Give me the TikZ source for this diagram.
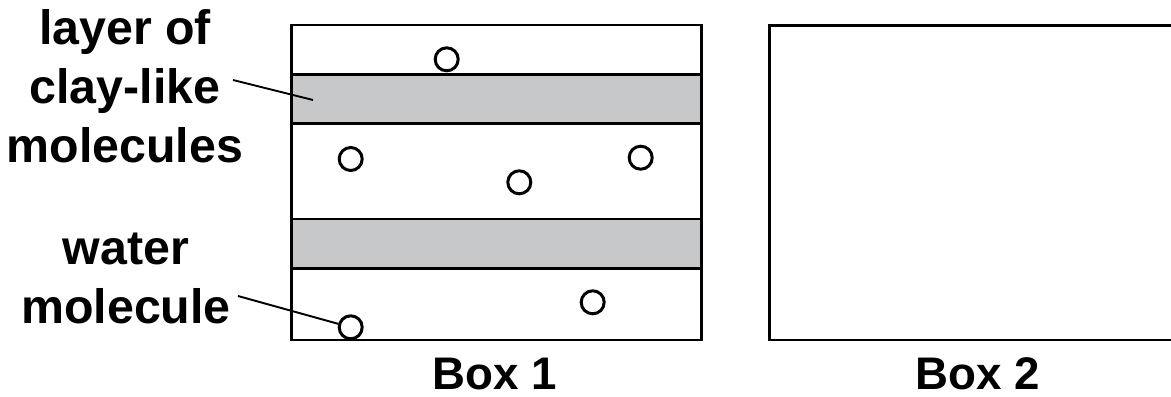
\documentclass[tikz,border=0pt]{standalone}
\usepackage{fontspec}
\setmainfont{Liberation Sans}
\usepackage{tikz}
\definecolor{claygray}{RGB}{199,200,202}
\newcommand{\molsize}{.46cm}
\newcommand{\boxline}{1.6pt}

\begin{document}
\begin{tikzpicture}[x=.02cm,y=-.02cm,
    lbl/.style={align=center,inner sep=0,font=\fontsize{27.5}{33.5}\selectfont\bfseries},
    boxlbl/.style={inner sep=0,anchor=base,font=\fontsize{26}{30}\selectfont\bfseries},
    mol/.style={draw,circle,line width=1.7pt,inner sep=0,minimum size=\molsize}]
\useasboundingbox (0,0) rectangle (1171,396);
    % Box 1: two clay layers with water molecules between
\draw[line width=\boxline] (291.7,25) rectangle (701.7,340);
\draw[line width=\boxline, fill=claygray] (291.7,74.3) rectangle (701.7,123.3);
\draw[line width=\boxline, fill=claygray] (291.7,219) rectangle (701.7,268.3);

\node (w1) at (446.7,59.3)  [mol] {};
\node (w2) at (350.7,159)   [mol] {};
\node (w3) at (519.3,182.3) [mol] {};
\node (w4) at (640.7,157.7) [mol] {};
\node (w5) at (592.7,302.3) [mol] {};
\node (w6) at (350.7,327.3) [mol] {};

    % Box 2 (empty, runs off the right edge)
\draw[line width=\boxline] (1171,25.7) -- (769.3,25.7) -- (769.3,340) -- (1171,340);

    % labels
\node (layer) at (125,162) [lbl, anchor=base] {layer of\\clay-like\\molecules};
\node (water) at (126,323) [lbl, anchor=base] {water\\molecule};
\node (box1) at (494.5,389) [boxlbl] {Box 1};
\node (box2) at (977.5,389) [boxlbl] {Box 2};

\coordinate (claytip) at (233,80);
\coordinate (clayend) at (313,100);
\coordinate (watertip) at (238,296);

\draw[line width=1.1pt] (claytip) to (clayend);
\draw[line width=1.1pt] (watertip) to (w6);

  \end{tikzpicture}
\end{document}
